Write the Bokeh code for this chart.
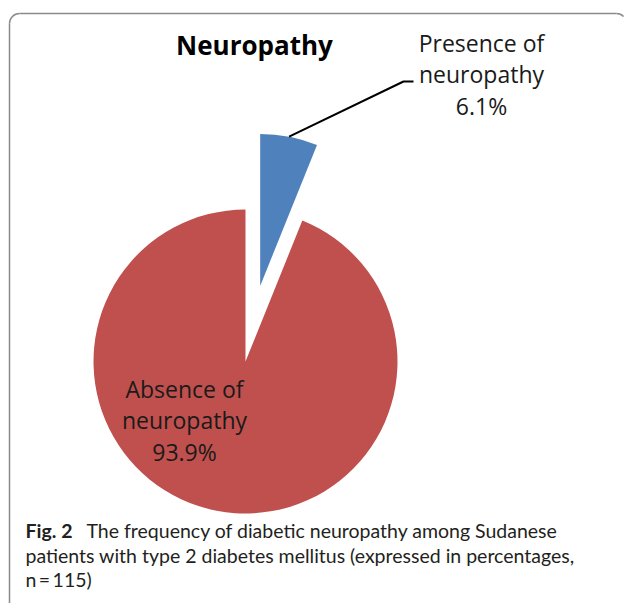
import math
from bokeh.plotting import figure
from bokeh.models import Range1d
from bokeh.core.properties import value
from bokeh.embed import file_html
from bokeh.resources import INLINE

# ---- data ----
categories = ["Presence of neuropathy", "Absence of neuropathy"]
percentages = [6.1, 93.9]
colors = ["#4F81BD", "#C0504D"]
label_lines = [["Presence of", "neuropathy", "6.1%"],
               ["Absence of", "neuropathy", "93.9%"]]
title_text = "Neuropathy"
caption_bold = "Fig. 2"
caption_lines = ["The frequency of diabetic neuropathy among Sudanese",
                 "patients with type 2 diabetes mellitus (expressed in percentages,",
                 "n\u2009=\u2009115)"]

W, H = 627, 603
def Y(py):  # page y (downwards) -> data y (upwards)
    return H - py

TOFF = 9  # text baseline correction
def TY(py):
    return Y(py - TOFF)

p = figure(width=W, height=H, output_backend="svg", toolbar_location=None,
           x_range=Range1d(0, W), y_range=Range1d(0, H),
           x_axis_type=None, y_axis_type=None, min_border=0)
p.outline_line_color = None
p.grid.visible = False
p.background_fill_color = "white"
p.border_fill_color = "white"

# ---- border (rounded rectangle, visible part) ----
r_c = 10
bx, by, bxr = 9, 13, 626
bcol = "#8a8a8a"
p.line([bx + r_c, bxr - r_c], [Y(by), Y(by)], line_color=bcol, line_width=1.5)
p.line([bx, bx], [Y(by + r_c), Y(H)], line_color=bcol, line_width=1.5)
p.arc(x=bx + r_c, y=Y(by + r_c), radius=r_c, start_angle=math.pi / 2,
      end_angle=math.pi, line_color=bcol, line_width=1.5)
p.arc(x=bxr - r_c, y=Y(by + r_c), radius=r_c, start_angle=math.pi / 4,
      end_angle=math.pi / 2, line_color=bcol, line_width=1.5)

# ---- pie ----
cx, cy, R = 245, Y(361), 152
explode = [77, 0]
start = math.pi / 2
fr = [v / sum(percentages) for v in percentages]
mids = []
for i, f in enumerate(fr):
    end = start - 2 * math.pi * f
    mid = (start + end) / 2
    mids.append(mid)
    ox = cx + explode[i] * math.cos(mid)
    oy = cy + explode[i] * math.sin(mid)
    p.wedge(x=ox, y=oy, radius=R, start_angle=start, end_angle=end,
            direction="clock", fill_color=colors[i], line_color=None)
    start = end

# leader line from presence slice
m = mids[0]
sx = cx + explode[0] * math.cos(m) + R * math.cos(m)
sy = cy + explode[0] * math.sin(m) + R * math.sin(m)
p.line([sx, 403, 413], [sy, Y(81), Y(81)], line_color="black", line_width=2)

txt_col = "#1a1a1a"
# title
p.text(x=[254], y=[TY(53)], text=[title_text], text_font=value("Open Sans"),
       text_font_style="bold", text_font_size="26px", text_align="center",
       text_baseline="alphabetic", text_color="black")

# labels
lab_pos = [(481, [51, 82, 114]), (184, [397, 428, 460])]
for (lx, bases), lines in zip(lab_pos, label_lines):
    p.text(x=[lx] * 3, y=[TY(b) for b in bases], text=lines,
           text_font=value("Open Sans"), text_font_size="23px",
           text_align="center", text_baseline="alphabetic", text_color=txt_col)

# caption
cap_col = "#231f20"
p.text(x=[25], y=[TY(539)], text=[caption_bold], text_font=value("Lato"),
       text_font_style="bold", text_font_size="19.5px", text_baseline="alphabetic",
       text_color=cap_col)
p.text(x=[86, 25, 25], y=[TY(539), TY(564), TY(588)], text=caption_lines,
       text_font=value("Lato"), text_font_size="19.5px",
       text_baseline="alphabetic", text_color=cap_col)

open("out.html", "w").write(file_html(p, INLINE))
